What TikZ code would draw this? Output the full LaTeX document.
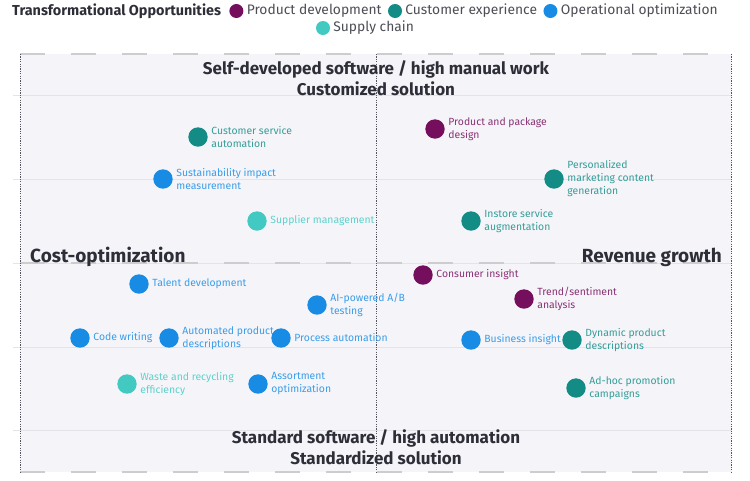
\documentclass[tikz,border=0pt]{standalone}
\usepackage{fontspec}
\setmainfont{Fira Sans}
\usetikzlibrary{positioning}
\definecolor{pd}{HTML}{750E5C}
\definecolor{cx}{HTML}{138C86}
\definecolor{op}{HTML}{188CE5}
\definecolor{sc}{HTML}{42C9C2}
\definecolor{bgc}{HTML}{F5F5F9}
\definecolor{gridc}{HTML}{E4E4E8}
\definecolor{dashc}{HTML}{CDCDD0}
\definecolor{darkc}{HTML}{2E2E38}
\definecolor{axisc}{HTML}{555560}
\tikzset{
  dotn/.style={circle, inner sep=0pt, minimum size=19.4pt},
  legdot/.style={circle, inner sep=0pt, minimum size=14pt},
  lbl/.style={anchor=west, inner sep=0pt, align=left, font=\fontsize{10.4}{13}\selectfont},
  legtxt/.style={inner sep=0pt, text=darkc!85!white, font=\fontsize{13.8}{16}\selectfont},
  head/.style={inner sep=0pt, text=darkc, font=\bfseries\fontsize{17}{20}\selectfont},
  side/.style={inner sep=0pt, text=darkc, font=\bfseries\fontsize{19}{22}\selectfont},
  axisline/.style={axisc, line width=0.8pt, dash pattern=on 1.2pt off 1.2pt},
}
\newcommand{\addpt}[4]{%
  \node[dotn, fill=#1] (#2) at (#3) {};
  \node[lbl, text=#1!85!white] (#2l) at ([xshift=3.3pt]#2.east) {#4};
}
\begin{document}
\begin{tikzpicture}[x=1pt,y=-1pt]
\useasboundingbox (0,0) rectangle (750,480);
% plot background
\fill[bgc] (20,54) rectangle (732,472);
\foreach \y in {95,179,263,347,430} \draw[gridc, line width=0.8pt] (13,\y) -- (732,\y);
\foreach \y in {54,263,472} \draw[dashc, line width=2pt, dash pattern=on 25pt off 26pt] (20,\y) -- (732,\y);
\foreach \x in {20.5,376,731.5} \draw[axisline] (\x,54) -- (\x,472);

% legend
\node[inner sep=0pt, anchor=west, text=darkc, font=\bfseries\fontsize{14.4}{16}\selectfont] (lt) at (12,11) {Transformational Opportunities};
\node[legdot, fill=pd, right=8pt of lt] (lc1) {};
\node[legtxt, right=3pt of lc1] (lp1) {Product development};
\node[legdot, fill=cx, right=6pt of lp1] (lc2) {};
\node[legtxt, right=3pt of lc2] (lp2) {Customer experience};
\node[legdot, fill=op, right=6pt of lp2] (lc3) {};
\node[legtxt, right=3pt of lc3] (lp3) {Operational optimization};
\node[legdot, fill=sc] (lc4) at (323,28) {};
\node[legtxt, right=3pt of lc4] (lp4) {Supply chain};

% headings
\node[head] (h1) at (376,69) {Self-developed software / high manual work};
\node[head] (h2) at (376,89) {Customized solution};
\node[head] (h3) at (376,438) {Standard software / high automation};
\node[head] (h4) at (376,458) {Standardized solution};
\node[side, anchor=west] (s1) at (30,257) {Cost-optimization};
\node[side, anchor=east] (s2) at (722,257) {Revenue growth};

% data points
\addpt{cx}{csa}{198,137}{Customer service\\automation}
\addpt{op}{sim}{163,179}{Sustainability impact\\measurement}
\addpt{sc}{sup}{257,221}{Supplier management}
\addpt{pd}{ppd}{435,129}{Product and package\\design}
\addpt{cx}{pmc}{554,179}{Personalized\\marketing content\\generation}
\addpt{cx}{isa}{471,221}{Instore service\\augmentation}
\addpt{op}{tal}{139,284}{Talent development}
\addpt{op}{aib}{317,305}{AI-powered A/B\\testing}
\addpt{op}{cod}{80,338}{Code writing}
\addpt{op}{apd}{169,338}{Automated product\\descriptions}
\addpt{op}{pra}{281,338}{Process automation}
\addpt{sc}{wre}{127,384}{Waste and recycling\\efficiency}
\addpt{op}{aso}{258,384}{Assortment\\optimization}
\addpt{pd}{coi}{423,275}{Consumer insight}
\addpt{pd}{tsa}{524,299}{Trend/sentiment\\analysis}
\addpt{op}{bui}{471,340}{Business insight}
\addpt{cx}{dpd}{572,340}{Dynamic product\\descriptions}
\addpt{cx}{ahp}{576,388}{Ad-hoc promotion\\campaigns}
\end{tikzpicture}
\end{document}
